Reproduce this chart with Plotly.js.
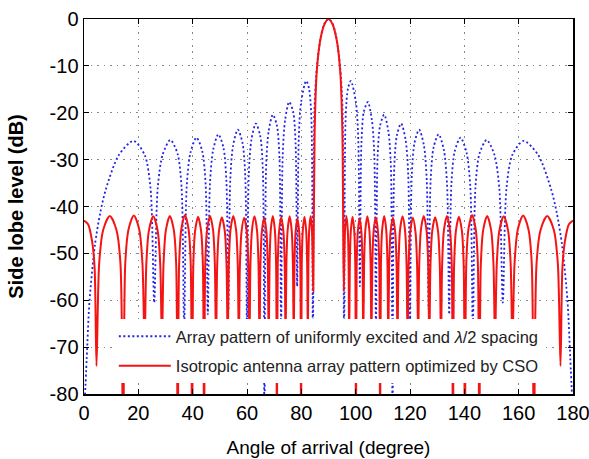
<!DOCTYPE html>
<html><head><meta charset="utf-8">
<script src="https://cdn.plot.ly/plotly-3.0.1.min.js"></script>
<style>html,body{margin:0;padding:0;background:#fff}#chart{width:589px;height:459px}</style>
</head><body><div id="chart"></div>
<script>
// Uniform array pattern (blue dotted)
const blueAngle = [
  0, 1, 2, 4, 6,
  8.11, 12.84, 18.19, 22.33, 24.49, 25.84,
  27.13, 28.96, 31.79, 34.41, 35.90, 36.87,
  37.81, 39.19, 41.41, 43.53, 44.77, 45.57,
  46.37, 47.55, 49.46, 51.32, 52.41, 53.13,
  53.84, 54.90, 56.63, 58.33, 59.34, 60.0,
  60.66, 61.64, 63.26, 64.85, 65.80, 66.42,
  67.05, 67.98, 69.51, 71.03, 71.94, 72.54,
  73.14, 74.04, 75.52, 77.00, 77.88, 78.46,
  79.05, 79.92, 81.78, 82.82, 83.68, 84.26,
  84.84, 85.70, 87.13, 88.57, 90,
  91.43, 92.87, 94.30, 95.16, 95.74,
  96.32, 97.18, 98.22, 100.08, 100.95, 101.54,
  102.12, 103.0, 104.48, 105.96, 106.86, 107.46,
  108.06, 108.97, 110.49, 112.02, 112.95, 113.58,
  114.2, 115.15, 116.74, 118.36, 119.34, 120.0,
  120.66, 121.67, 123.37, 125.1, 126.16, 126.87,
  127.59, 128.68, 130.54, 132.45, 133.63, 134.43,
  135.23, 136.47, 138.59, 140.81, 142.19, 143.13,
  144.1, 145.59, 148.21, 151.04, 152.87, 154.16,
  155.51, 157.67, 161.81, 167.16, 171.89,
  174, 176, 178, 179, 180
];
const blueLevel = [
  -85, -72.4, -60.4, -48.3, -41.3,
  -36.2, -29.0, -26.0, -29.0, -36.1, -60.5,
  -36.1, -28.9, -25.8, -28.7, -35.8, -66,
  -35.7, -28.5, -25.3, -28.2, -35.3, -63,
  -35.2, -27.9, -24.6, -27.4, -34.5, -62,
  -34.3, -26.9, -23.6, -26.4, -33.3, -66,
  -33.1, -25.7, -22.3, -24.9, -31.8, -90,
  -31.4, -23.9, -20.4, -22.8, -29.6, -66,
  -29.1, -21.5, -17.7, -19.8, -26.4, -57,
  -25.6, -17.7, -13.2, -14.8, -20.9, -70,
  -19.2, -10.4, -3.9, -0.9, 0,
  -0.9, -3.9, -10.4, -19.2, -70,
  -20.9, -14.8, -13.2, -17.7, -25.6, -57,
  -26.4, -19.8, -17.7, -21.5, -29.1, -66,
  -29.6, -22.8, -20.4, -23.9, -31.4, -90,
  -31.8, -24.9, -22.3, -25.7, -33.1, -66,
  -33.3, -26.4, -23.6, -26.9, -34.3, -62,
  -34.5, -27.4, -24.6, -27.9, -35.2, -63,
  -35.3, -28.2, -25.3, -28.5, -35.7, -66,
  -35.8, -28.7, -25.8, -28.9, -36.1, -60.5,
  -36.1, -29.0, -26.0, -29.0, -36.2,
  -41.3, -48.3, -60.4, -72.4, -85
];

// CSO optimized pattern (red solid)
const redAngleLeft = [
  0, 1.5, 3.0, 3.9, 4.6,
  5.58, 7.05, 9.5, 11.95, 13.42, 14.4,
  15.19, 16.38, 18.35, 20.33, 21.51, 22.3,
  22.94, 23.9, 25.5, 27.1, 28.06, 28.7,
  29.28, 30.15, 31.6, 33.05, 33.92, 34.5,
  35.03, 35.83, 37.15, 38.48, 39.27, 39.8,
  40.24, 40.9, 42.0, 43.1, 43.76, 44.2,
  44.64, 45.3, 46.4, 47.5, 48.16, 48.6,
  49.03, 49.68, 50.75, 51.83, 52.47, 52.9,
  53.31, 53.93, 54.95, 55.98, 56.59, 57.0,
  57.39, 57.98, 58.95, 59.93, 60.51, 60.9,
  61.27, 61.83, 62.75, 63.68, 64.23, 64.6,
  64.94, 65.45, 66.3, 67.15, 67.66, 68.0,
  68.3, 68.75, 69.5, 70.25, 70.7, 71.0,
  71.32, 71.8, 72.6, 73.4, 73.88, 74.2,
  74.5, 74.95, 75.7, 76.45, 76.9, 77.2,
  77.47, 77.88, 78.55, 79.23, 79.63, 79.9,
  80.15, 80.53, 81.15, 81.78, 82.15, 82.4,
  82.6, 82.9, 83.4, 83.9, 84.2, 84.4,
  84.9, 85.7, 87.1, 88.6, 90
];
const redLevelLeft = [
  -43, -43.8, -47.5, -53, -74,
  -52.2, -45, -42, -45, -52.2, -95,
  -52.1, -44.9, -41.9, -44.9, -52.1, -70,
  -52.3, -45.1, -42.1, -45.1, -52.3, -70,
  -52.2, -45, -42, -45, -52.2, -95,
  -52, -44.8, -41.8, -44.8, -52, -95,
  -52.4, -45.2, -42.2, -45.2, -52.4, -95,
  -52.2, -45, -42, -45, -52.2, -70,
  -52.5, -45.3, -42.3, -45.3, -52.5, -70,
  -52.2, -45, -42, -45, -52.2, -70,
  -52.6, -45.4, -42.4, -45.4, -52.6, -70,
  -52.3, -45.1, -42.1, -45.1, -52.3, -70,
  -52.6, -45.4, -42.4, -45.4, -52.6, -70,
  -52.2, -45, -42, -45, -52.2, -95,
  -52.5, -45.3, -42.3, -45.3, -52.5, -70,
  -52.3, -45.1, -42.1, -45.1, -52.3, -70,
  -52.7, -45.5, -42.5, -45.5, -52.7, -95,
  -52.4, -45.2, -42.2, -45.2, -52.4, -70,
  -52.2, -45, -42, -45, -52.2, -58,
  -24, -11, -4.1, -1.0, 0
];
const redAngleRight = [
  91.4, 92.9, 94.3, 95.1, 95.6,
  95.8, 96.1, 96.6, 97.1, 97.4, 97.6,
  97.85, 98.22, 98.85, 99.47, 99.85, 100.1,
  100.37, 100.77, 101.45, 102.12, 102.53, 102.8,
  103.1, 103.55, 104.3, 105.05, 105.5, 105.8,
  106.12, 106.6, 107.4, 108.2, 108.68, 109.0,
  109.3, 109.75, 110.5, 111.25, 111.7, 112.0,
  112.34, 112.85, 113.7, 114.55, 115.06, 115.4,
  115.77, 116.32, 117.25, 118.17, 118.73, 119.1,
  119.49, 120.07, 121.05, 122.02, 122.61, 123.0,
  123.41, 124.02, 125.05, 126.07, 126.69, 127.1,
  127.53, 128.17, 129.25, 130.32, 130.97, 131.4,
  131.84, 132.5, 133.6, 134.7, 135.36, 135.8,
  136.24, 136.9, 138.0, 139.1, 139.76, 140.2,
  140.73, 141.52, 142.85, 144.17, 144.97, 145.5,
  146.08, 146.95, 148.4, 149.85, 150.72, 151.3,
  151.94, 152.9, 154.5, 156.1, 157.06, 157.7,
  158.49, 159.67, 161.65, 163.62, 164.81, 165.6,
  166.58, 168.05, 170.5, 172.95, 174.42, 175.4,
  176.1, 177.0, 178.5, 180
];
const redLevelRight = [
  -1.0, -4.1, -11, -24, -58,
  -52.2, -45, -42, -45, -52.2, -70,
  -52.4, -45.2, -42.2, -45.2, -52.4, -95,
  -52.7, -45.5, -42.5, -45.5, -52.7, -70,
  -52.3, -45.1, -42.1, -45.1, -52.3, -70,
  -52.5, -45.3, -42.3, -45.3, -52.5, -95,
  -52.2, -45, -42, -45, -52.2, -70,
  -52.6, -45.4, -42.4, -45.4, -52.6, -70,
  -52.3, -45.1, -42.1, -45.1, -52.3, -70,
  -52.6, -45.4, -42.4, -45.4, -52.6, -70,
  -52.2, -45, -42, -45, -52.2, -70,
  -52.5, -45.3, -42.3, -45.3, -52.5, -70,
  -52.2, -45, -42, -45, -52.2, -95,
  -52.4, -45.2, -42.2, -45.2, -52.4, -95,
  -52, -44.8, -41.8, -44.8, -52, -95,
  -52.2, -45, -42, -45, -52.2, -70,
  -52.3, -45.1, -42.1, -45.1, -52.3, -70,
  -52.1, -44.9, -41.9, -44.9, -52.1, -95,
  -52.2, -45, -42, -45, -52.2, -74,
  -53, -47.5, -43.8, -43
];

const xTicks = [0, 20, 40, 60, 80, 100, 120, 140, 160, 180];
const yTicks = [0, -10, -20, -30, -40, -50, -60, -70, -80];
const yTickText = ['0', '-10', '-20', '-30', '-40', '-50', '-60', '-70', '-80'];
const seriesNames = [
  'Array pattern of uniformly excited and <i>λ</i>/2 spacing',
  'Isotropic antenna array pattern optimized by CSO'
];

const FONT = 'Liberation Sans, Arial, sans-serif';

const traces = [
  {
    x: blueAngle, y: blueLevel, type: 'scatter', mode: 'lines',
    name: seriesNames[0], legendgroup: 'a',
    line: {color: 'rgb(35,35,230)', width: 1.8, dash: '2px,2.5px', shape: 'spline', smoothing: 0.8}
  },
  {
    x: redAngleLeft.concat(redAngleRight), y: redLevelLeft.concat(redLevelRight),
    type: 'scatter', mode: 'lines',
    name: seriesNames[1], legendgroup: 'b',
    line: {color: 'rgb(245,20,20)', width: 2, shape: 'spline', smoothing: 0.8}
  }
];

const axisCommon = {
  showline: true, linecolor: '#000', linewidth: 1.5, mirror: 'ticks',
  ticks: 'inside', ticklen: 5, tickwidth: 1, tickcolor: '#000',
  showgrid: true, gridcolor: '#888', gridwidth: 1, griddash: '1.5px,5px',
  zeroline: false, ticklabeloverflow: 'allow',
  tickfont: {family: FONT, size: 20, color: '#000'}
};

const layout = {
  width: 589, height: 459,
  margin: {l: 84, r: 16, t: 19, b: 65},
  paper_bgcolor: '#fff', plot_bgcolor: '#fff',
  font: {family: FONT, color: '#000'},
  showlegend: true,
  xaxis: Object.assign({}, axisCommon, {
    range: [0, 180], tickvals: xTicks,
    title: {text: 'Angle of arrival (degree)', font: {family: FONT, size: 19, color: '#000'}, standoff: 18}
  }),
  yaxis: Object.assign({}, axisCommon, {
    range: [-80, 0], tickvals: yTicks, ticktext: yTickText,
    title: {text: '<b>Side lobe level (dB)</b>', font: {family: FONT, size: 20, color: '#000'}, standoff: 20}
  }),
  legend: {
    x: 0.061, y: 0.2, xanchor: 'left', yanchor: 'top',
    bgcolor: '#fff', borderwidth: 0,
    font: {family: FONT, size: 16.5, color: '#222'},
    traceorder: 'grouped', tracegroupgap: 5, itemwidth: 52
  }
};

Plotly.newPlot('chart', traces, layout, {displayModeBar: false, staticPlot: true});
</script>
</body></html>
